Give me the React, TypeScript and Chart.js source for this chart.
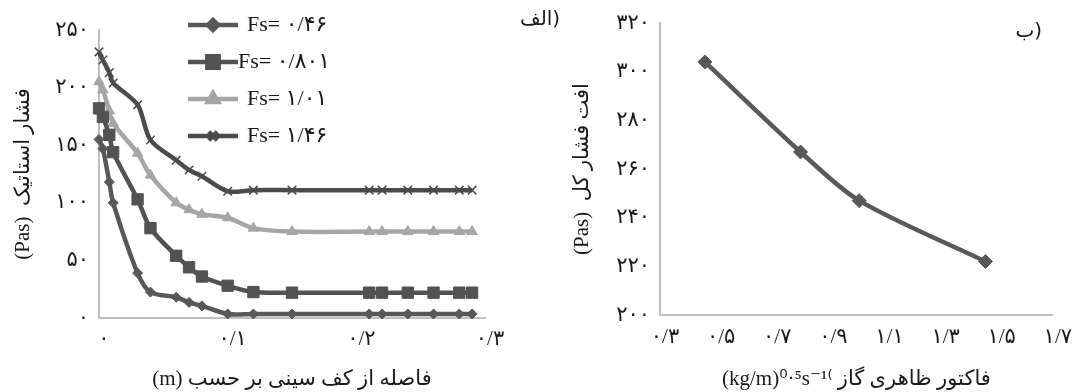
import React, { useEffect, useRef } from 'react';
import { Chart, registerables } from 'chart.js';
import { drawPoint } from 'chart.js/helpers';

Chart.register(...registerables);

// ---------- Data: panel (الف) static pressure vs distance ----------
const seriesLabels = ['Fs= ۰/۴۶', 'Fs= ۰/۸۰۱', 'Fs= ۱/۰۱', 'Fs= ۱/۴۶'];
const distance = [0, 0.003, 0.008, 0.011, 0.03, 0.04, 0.06, 0.07, 0.08, 0.1, 0.12, 0.15, 0.21, 0.22, 0.24, 0.26, 0.28, 0.29];
const pressFs046 = [155, 147, 118, 100, 39, 22.5, 18, 13.5, 10.5, 3.5, 3.5, 3.5, 3.5, 3.5, 3.5, 3.5, 3.5, 3.5];
const pressFs0801 = [182, 174.5, 159, 144, 103, 78, 54, 44, 36, 28, 22.5, 22, 22, 22, 22, 22, 22, 22];
const pressFs101 = [205, 198, 180, 169, 143, 124, 100, 94, 90, 87, 78, 75, 75, 75, 75, 75, 75, 75];
const pressFs146 = [231, 224, 213, 204, 185, 154.5, 137, 128.5, 123, 110, 111, 111, 111, 111, 111, 111, 111, 111];

// ---------- Data: panel (ب) total pressure drop vs gas factor ----------
const gasFactor = [0.46, 0.801, 1.01, 1.46];
const totalDrop = [304, 267, 247, 222];

// ---------- Tick values and labels ----------
const leftXTicks = [0, 0.1, 0.2, 0.3];
const leftXTickLabels = ['۰', '۰/۱', '۰/۲', '۰/۳'];
const leftYTicks = [0, 50, 100, 150, 200, 250];
const leftYTickLabels = ['۰', '۵۰', '۱۰۰', '۱۵۰', '۲۰۰', '۲۵۰'];
const rightXTicks = [0.3, 0.5, 0.7, 0.9, 1.1, 1.3, 1.5, 1.7];
const rightXTickLabels = ['۰/۳', '۰/۵', '۰/۷', '۰/۹', '۱/۱', '۱/۳', '۱/۵', '۱/۷'];
const rightYTicks = [200, 220, 240, 260, 280, 300, 320];
const rightYTickLabels = ['۲۰۰', '۲۲۰', '۲۴۰', '۲۶۰', '۲۸۰', '۳۰۰', '۳۲۰'];

const leftXTitle = '(m) فاصله از کف سینی بر حسب';
const leftYTitle = '(Pas)  فشار استاتیک';
const rightXTitle = '(kg/m)⁰·⁵s⁻¹⁽ فاکتور ظاهری گاز';
const rightYTitle = '(Pas)  افت فشار کل';
const leftPanelLabel = 'الف)';
const rightPanelLabel = 'ب)';

const FONT = '"Liberation Serif", "DejaVu Sans", serif';
const TEXT = '#1a1a1a';
const AXIS = '#bfbfbf';

function tickSetup(values: number[], labels: string[]) {
  return {
    afterBuildTicks: (scale: any) => {
      scale.ticks = values.map((v) => ({ value: v }));
    },
    callback: (v: any) => {
      const i = values.findIndex((t) => Math.abs(t - Number(v)) < 1e-9);
      return i >= 0 ? labels[i] : '';
    },
  };
}

function panelLabelPlugin(text: string, dx: number, dy: number) {
  return {
    id: 'panelLabel' + dx,
    afterDraw(chart: any) {
      const { ctx, chartArea } = chart;
      ctx.save();
      ctx.direction = 'ltr';
      ctx.font = '20px "DejaVu Sans", sans-serif';
      ctx.fillStyle = TEXT;
      ctx.textAlign = 'center';
      ctx.textBaseline = 'middle';
      ctx.fillText('\u200E' + text + '\u200E', chartArea.right + dx, chartArea.top + dy);
      ctx.restore();
    },
  };
}

const legendTextShift = [0, -9, 0, 0];

const insideLegend = {
  id: 'insideLegend',
  afterDatasetsDraw(chart: any) {
    const { ctx, chartArea } = chart;
    chart.data.datasets.forEach((ds: any, i: number) => {
      const y = chartArea.top - 5 + i * 37;
      const x0 = chartArea.left + 89;
      const x1 = chartArea.left + 139;
      ctx.save();
      ctx.strokeStyle = ds.borderColor;
      ctx.lineWidth = ds.borderWidth;
      ctx.beginPath();
      ctx.moveTo(x0, y);
      ctx.lineTo(x1, y);
      ctx.stroke();
      ctx.fillStyle = ds.pointBackgroundColor;
      ctx.strokeStyle = ds.pointBorderColor;
      drawPoint(ctx, {
        pointStyle: ds.pointStyle,
        radius: ds.pointRadius,
        rotation: 0,
        borderWidth: ds.pointBorderWidth,
      } as any, (x0 + x1) / 2, y);
      ctx.fillStyle = TEXT;
      ctx.font = '22px ' + FONT;
      ctx.textAlign = 'left';
      ctx.textBaseline = 'middle';
      ctx.fillText(ds.label, x1 + 9 + legendTextShift[i], y);
      ctx.restore();
    });
  },
};

function series(label: string, ys: number[], color: string, style: string, radius: number, pbw: number) {
  return {
    label,
    data: distance.map((x, i) => ({ x, y: ys[i] })),
    borderColor: color,
    backgroundColor: color,
    borderWidth: 4.5,
    pointStyle: style,
    pointRadius: radius,
    pointBackgroundColor: color,
    pointBorderColor: color,
    pointBorderWidth: pbw,
    tension: 0.3,
    clip: false as any,
  };
}

export default function App() {
  const leftRef = useRef<HTMLCanvasElement>(null);
  const rightRef = useRef<HTMLCanvasElement>(null);

  useEffect(() => {
    document.body.style.margin = '0';
    const lx = tickSetup(leftXTicks, leftXTickLabels);
    const ly = tickSetup(leftYTicks, leftYTickLabels);
    const rx = tickSetup(rightXTicks, rightXTickLabels);
    const ry = tickSetup(rightYTicks, rightYTickLabels);
    const tickFont = { size: 21, family: FONT };
    const titleFont = { size: 21, family: FONT };

    const c1 = new Chart(leftRef.current!, {
      type: 'line',
      data: {
        datasets: [
          series(seriesLabels[0], pressFs046, '#585858', 'rectRot', 5, 1),
          series(seriesLabels[1], pressFs0801, '#525252', 'rect', 8, 1),
          series(seriesLabels[2], pressFs101, '#a6a6a6', 'triangle', 6, 1),
          series(seriesLabels[3], pressFs146, '#4b4b4b', 'crossRot', 6, 1.5),
        ] as any,
      },
      options: {
        animation: false,
        responsive: false,
        layout: { padding: { left: 0, top: 30, right: 75, bottom: 0 } },
        plugins: { legend: { display: false }, tooltip: { enabled: false } },
        scales: {
          x: {
            type: 'linear',
            min: 0,
            max: 0.3,
            afterBuildTicks: lx.afterBuildTicks,
            afterFit: (s: any) => { s.height = 74; },
            grid: { display: false, drawTicks: false },
            border: { display: true, color: AXIS, width: 2 },
            ticks: { callback: lx.callback, padding: 9, labelOffset: 5, color: TEXT, font: tickFont, maxRotation: 0, autoSkip: false },
            title: { display: true, text: leftXTitle, color: TEXT, font: titleFont, padding: { top: 0, bottom: 0 } },
          },
          y: {
            type: 'linear',
            min: 0,
            max: 250,
            afterBuildTicks: ly.afterBuildTicks,
            afterFit: (s: any) => { s.width = 99; },
            grid: { display: false, drawTicks: false },
            border: { display: true, color: AXIS, width: 2 },
            ticks: { callback: ly.callback, padding: 10, color: TEXT, font: tickFont, autoSkip: false },
            title: { display: true, text: leftYTitle, color: TEXT, font: titleFont, padding: { top: 11, bottom: 0 } },
          },
        },
      } as any,
      plugins: [insideLegend, panelLabelPlugin(leftPanelLabel, 55, -10)],
    });

    const c2 = new Chart(rightRef.current!, {
      type: 'line',
      data: {
        datasets: [
          {
            label: 'drop',
            data: gasFactor.map((x, i) => ({ x, y: totalDrop[i] })),
            borderColor: '#595959',
            backgroundColor: '#595959',
            borderWidth: 4.5,
            pointStyle: 'rectRot',
            pointRadius: 7,
            pointBackgroundColor: '#595959',
            pointBorderColor: '#595959',
            pointBorderWidth: 1,
            tension: 0.3,
            clip: false,
          } as any,
        ],
      },
      options: {
        animation: false,
        responsive: false,
        layout: { padding: { left: 0, top: 23, right: 21, bottom: 0 } },
        plugins: { legend: { display: false }, tooltip: { enabled: false } },
        scales: {
          x: {
            type: 'linear',
            min: 0.3,
            max: 1.7,
            afterBuildTicks: rx.afterBuildTicks,
            afterFit: (s: any) => { s.height = 77; },
            grid: { display: false, drawTicks: false },
            border: { display: true, color: AXIS, width: 2 },
            ticks: { callback: rx.callback, padding: 10, labelOffset: 5, color: TEXT, font: tickFont, maxRotation: 0, autoSkip: false },
            title: { display: true, text: rightXTitle, color: TEXT, font: titleFont, padding: { top: 0, bottom: 0 } },
          },
          y: {
            type: 'linear',
            min: 200,
            max: 320,
            afterBuildTicks: ry.afterBuildTicks,
            afterFit: (s: any) => { s.width = 100; },
            grid: { display: false, drawTicks: false },
            border: { display: true, color: AXIS, width: 2 },
            ticks: { callback: ry.callback, padding: 10, color: TEXT, font: tickFont, autoSkip: false },
            title: { display: true, text: rightYTitle, color: TEXT, font: titleFont, padding: { top: 10, bottom: 0 } },
          },
        },
      } as any,
      plugins: [panelLabelPlugin(rightPanelLabel, -24, 9)],
    });

    return () => {
      c1.destroy();
      c2.destroy();
    };
  }, []);

  return (
    <div style={{ position: 'relative', width: 1077, height: 392, background: '#ffffff' }}>
      <canvas ref={leftRef} width={560} height={392} style={{ position: 'absolute', left: 0, top: 0, width: 560, height: 392 }} />
      <canvas ref={rightRef} width={517} height={392} style={{ position: 'absolute', left: 560, top: 0, width: 517, height: 392 }} />
    </div>
  );
}
